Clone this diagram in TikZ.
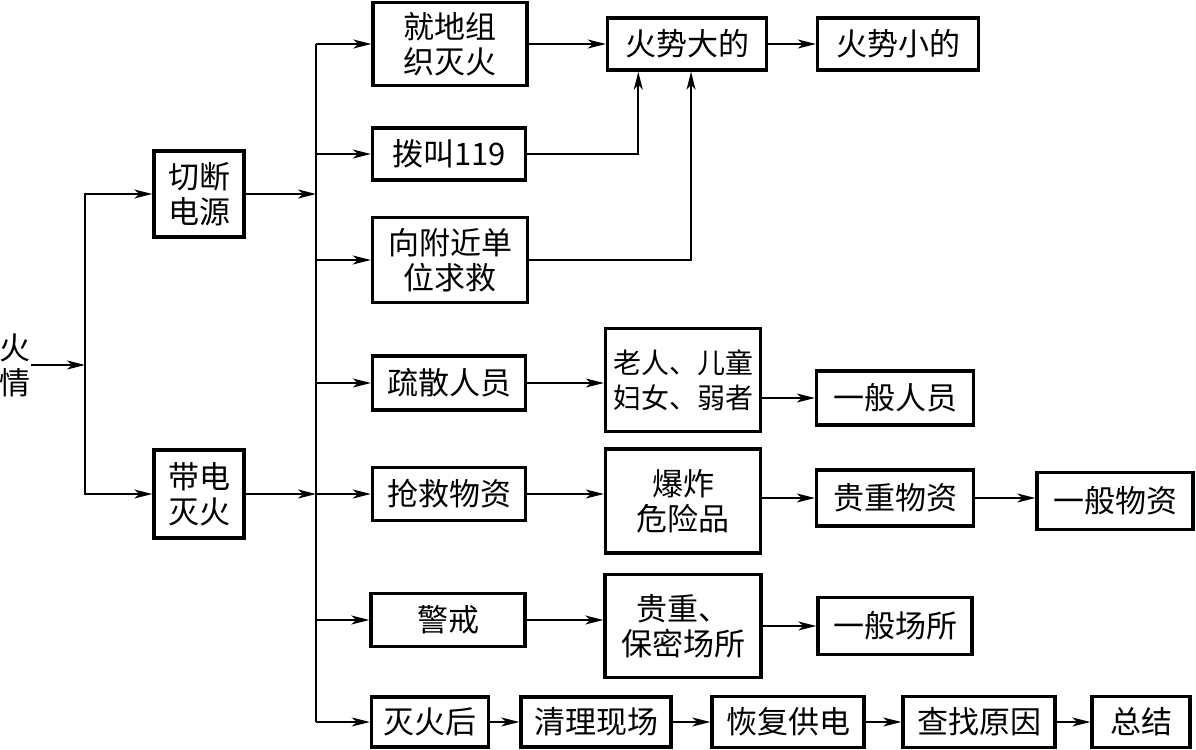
\documentclass[tikz,border=0pt]{standalone}
\usepackage{fontspec}
\setmainfont{Noto Sans CJK SC}
\usetikzlibrary{arrows.meta,calc}

\begin{document}
\begin{tikzpicture}[x=0.5pt, y=-0.5pt,
    every node/.style={font=\fontsize{15.5}{17.5}\selectfont, align=center, inner sep=0pt},
    box/.style={draw, rectangle, line width=1.7pt},
    arr/.style={-{Stealth[length=9pt, width=4.5pt, inset=2.5pt]}, line width=1pt}]
  \useasboundingbox (0,0) rectangle (1196,750);

  \node (huoqing) at (15,365) {火\\情};
  \node (qieduan) [box, minimum width=45pt, minimum height=43pt] at (199,194) {切断\\电源};
  \node (daidian) [box, minimum width=45pt, minimum height=44pt] at (199,494) {带电\\灭火};

  \node (jiudi)      [box, minimum width=77pt,   minimum height=41.5pt] at (450,44)  {就地组\\织灭火};
  \node (bojiao)     [box, minimum width=76.5pt, minimum height=26pt]   at (449,154) {拨叫119};
  \node (xiangfujin) [box, minimum width=77.5pt, minimum height=42.5pt] at (450,260) {向附近单\\位求救};
  \node (shusan)     [box, minimum width=76.5pt, minimum height=27pt]   at (449,383) {疏散人员};
  \node (qiangjiu)   [box, minimum width=76.5pt, minimum height=26.5pt] at (449,494) {抢救物资};
  \node (jingjie)    [box, minimum width=77pt,   minimum height=26.5pt] at (448,620) {警戒};
  \node (miehuohou)  [box, minimum width=58.5pt, minimum height=25pt]   at (430,722) {灭火后};

  \node (dade)   [box, minimum width=79.5pt, minimum height=26pt] at (687,44) {火势大的};
  \node (xiaode) [box, minimum width=80.5pt, minimum height=26pt] at (898,44) {火势小的};

  \node (laoren) [box, minimum width=77.5pt, minimum height=51.5pt, font=\fontsize{14}{17.5}\selectfont] at (683,380) {老人、儿童\\妇女、弱者};
  \node (baozha) [box, minimum width=77.5pt, minimum height=52pt]   at (683,501) {爆炸\\危险品};
  \node (baomi)  [box, minimum width=78pt,   minimum height=51.5pt] at (683,626) {贵重、\\保密场所};

  \node (yibanry)  [box, minimum width=78.5pt, minimum height=27pt]   at (895,398)  {一般人员};
  \node (guizhong) [box, minimum width=78.5pt, minimum height=28pt]   at (895,498)  {贵重物资};
  \node (yibanwz)  [box, minimum width=78pt,   minimum height=28.5pt] at (1115,501) {一般物资};
  \node (yibancs)  [box, minimum width=77pt,   minimum height=28.5pt] at (895,626)  {一般场所};

  \node (qingli)  [box, minimum width=75pt, minimum height=25pt]   at (596,722)  {清理现场};
  \node (huifu)   [box, minimum width=76pt, minimum height=25.5pt] at (788,722)  {恢复供电};
  \node (chazhao) [box, minimum width=76pt, minimum height=25.5pt] at (979,722)  {查找原因};
  \node (zongjie) [box, minimum width=49pt, minimum height=25.5pt] at (1141,722) {总结};

  \coordinate (split) at (85,365);
  \coordinate (bus) at (316,0);

  % fire -> two ways
  \draw[arr] (huoqing) -- (split);
  \draw[arr] (split) |- (qieduan);
  \draw[arr] (split) |- (daidian);

  % main bus
  \draw[arr] (qieduan) -- (qieduan -| bus);
  \draw[arr] (daidian) -- (daidian -| bus);
  \draw[line width=1pt] (jiudi -| bus) -- (miehuohou -| bus);
  \foreach \n in {jiudi,bojiao,xiangfujin,shusan,qiangjiu,jingjie,miehuohou}
    \draw[arr] (\n -| bus) -- (\n);

  % fire fighting
  \draw[arr] (jiudi) -- (dade);
  \draw[arr] (dade)  -- (xiaode);
  \draw[arr] (bojiao) -| ($(dade.south west)!0.2!(dade.south east)$);
  \draw[arr] (xiangfujin) -| ($(dade.south west)!0.525!(dade.south east)$);

  % people, goods, guard
  \draw[arr] (shusan) -- (shusan -| laoren.west);
  \draw[arr] (yibanry -| laoren.east) -- (yibanry);
  \draw[arr] (qiangjiu) -- (qiangjiu -| baozha.west);
  \draw[arr] (guizhong -| baozha.east) -- (guizhong);
  \draw[arr] (guizhong) -- (guizhong -| yibanwz.west);
  \draw[arr] (jingjie) -- (jingjie -| baomi.west);
  \draw[arr] (yibancs -| baomi.east) -- (yibancs);

  % after the fire
  \draw[arr] (miehuohou) -- (qingli);
  \draw[arr] (qingli)    -- (huifu);
  \draw[arr] (huifu)     -- (chazhao);
  \draw[arr] (chazhao)   -- (zongjie);
\end{tikzpicture}
\end{document}
